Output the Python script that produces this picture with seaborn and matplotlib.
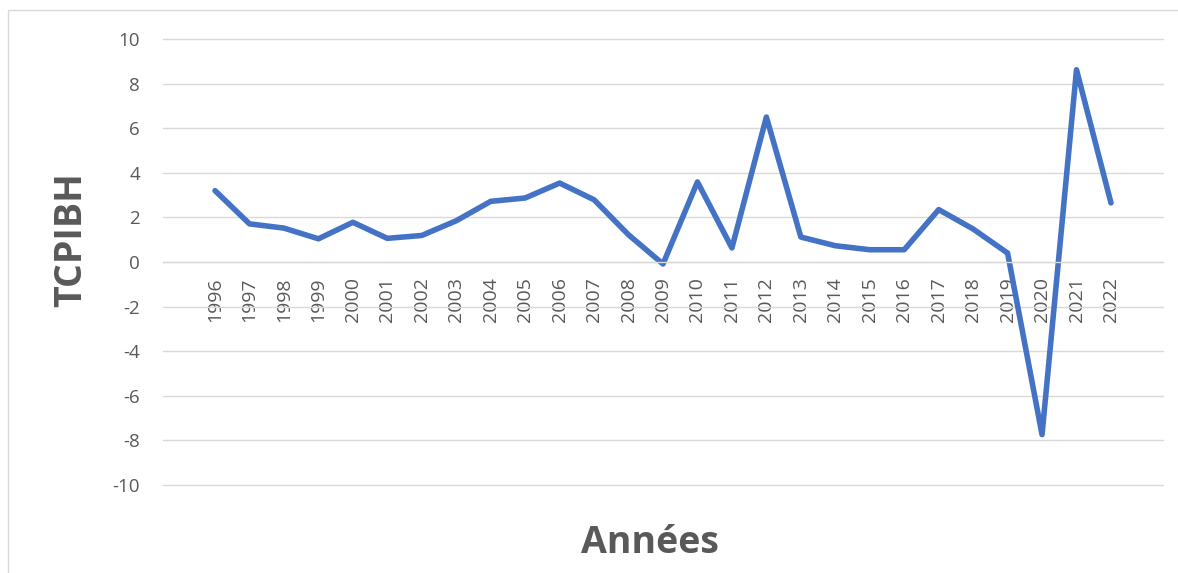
import numpy as np
import pandas as pd
import seaborn as sns
from matplotlib import pyplot as plt
from matplotlib.patches import Rectangle

annees = [str(a) for a in range(1996, 2023)]
tcpibh = [3.20, 1.71, 1.52, 1.04, 1.78, 1.06, 1.19, 1.85, 2.72, 2.87,
          3.54, 2.79, 1.22, -0.09, 3.59, 0.63, 6.50, 1.12, 0.73, 0.55,
          0.55, 2.35, 1.48, 0.40, -7.74, 8.62, 2.65]
yticks = list(range(-10, 11, 2))

df = pd.DataFrame({'Années': annees, 'TCPIBH': tcpibh})

sns.set_style('white')
plt.rcParams['font.family'] = ['Open Sans', 'DejaVu Sans']
gris = '#595959'

fig = plt.figure(figsize=(11.78, 5.73), dpi=100)
ax = fig.add_axes([163 / 1178, 1 - 485 / 573, 1000 / 1178, 446 / 573])

sns.lineplot(data=df, x='Années', y='TCPIBH', sort=False, ax=ax,
             color='#4472C4', linewidth=4.0,
             solid_joinstyle='round', solid_capstyle='round')

ax.set_ylim(-10, 10)
ax.set_xlim(-1.51, 27.51)
ax.set_yticks(yticks)
ax.set_yticklabels([str(v) for v in yticks])
ax.yaxis.grid(True, color='#D9D9D9', linewidth=1.0)
for gl in ax.get_ygridlines():
    gl.set_clip_on(False)
ax.xaxis.grid(False)
for s in ['top', 'right', 'left']:
    ax.spines[s].set_visible(False)
ax.spines['bottom'].set_position(('data', 0))
ax.spines['bottom'].set_color('#D9D9D9')
ax.spines['bottom'].set_linewidth(1.0)
ax.tick_params(axis='x', length=0, pad=11, labelsize=14, labelcolor=gris,
               labelrotation=90)
ax.tick_params(axis='y', length=0, pad=16.5, labelsize=13.5, labelcolor=gris)
ax.set_xlabel('')
ax.set_ylabel('')

fig.text(71.5 / 1178, 1 - 240 / 573, 'TCPIBH', rotation=90, ha='center',
         va='center', fontsize=27, fontweight='bold', color=gris)
fig.text(649.5 / 1178, 1 - 553 / 573, 'Années', ha='center', va='baseline',
         fontsize=27, fontweight='bold', color=gris)

fig.patches.append(Rectangle((8 / 1178, -0.1), 1.2, 1.1 - 10 / 573,
                             transform=fig.transFigure, fill=False,
                             edgecolor='#D9D9D9', linewidth=1.0))

fig.savefig('out.png', dpi=100)
